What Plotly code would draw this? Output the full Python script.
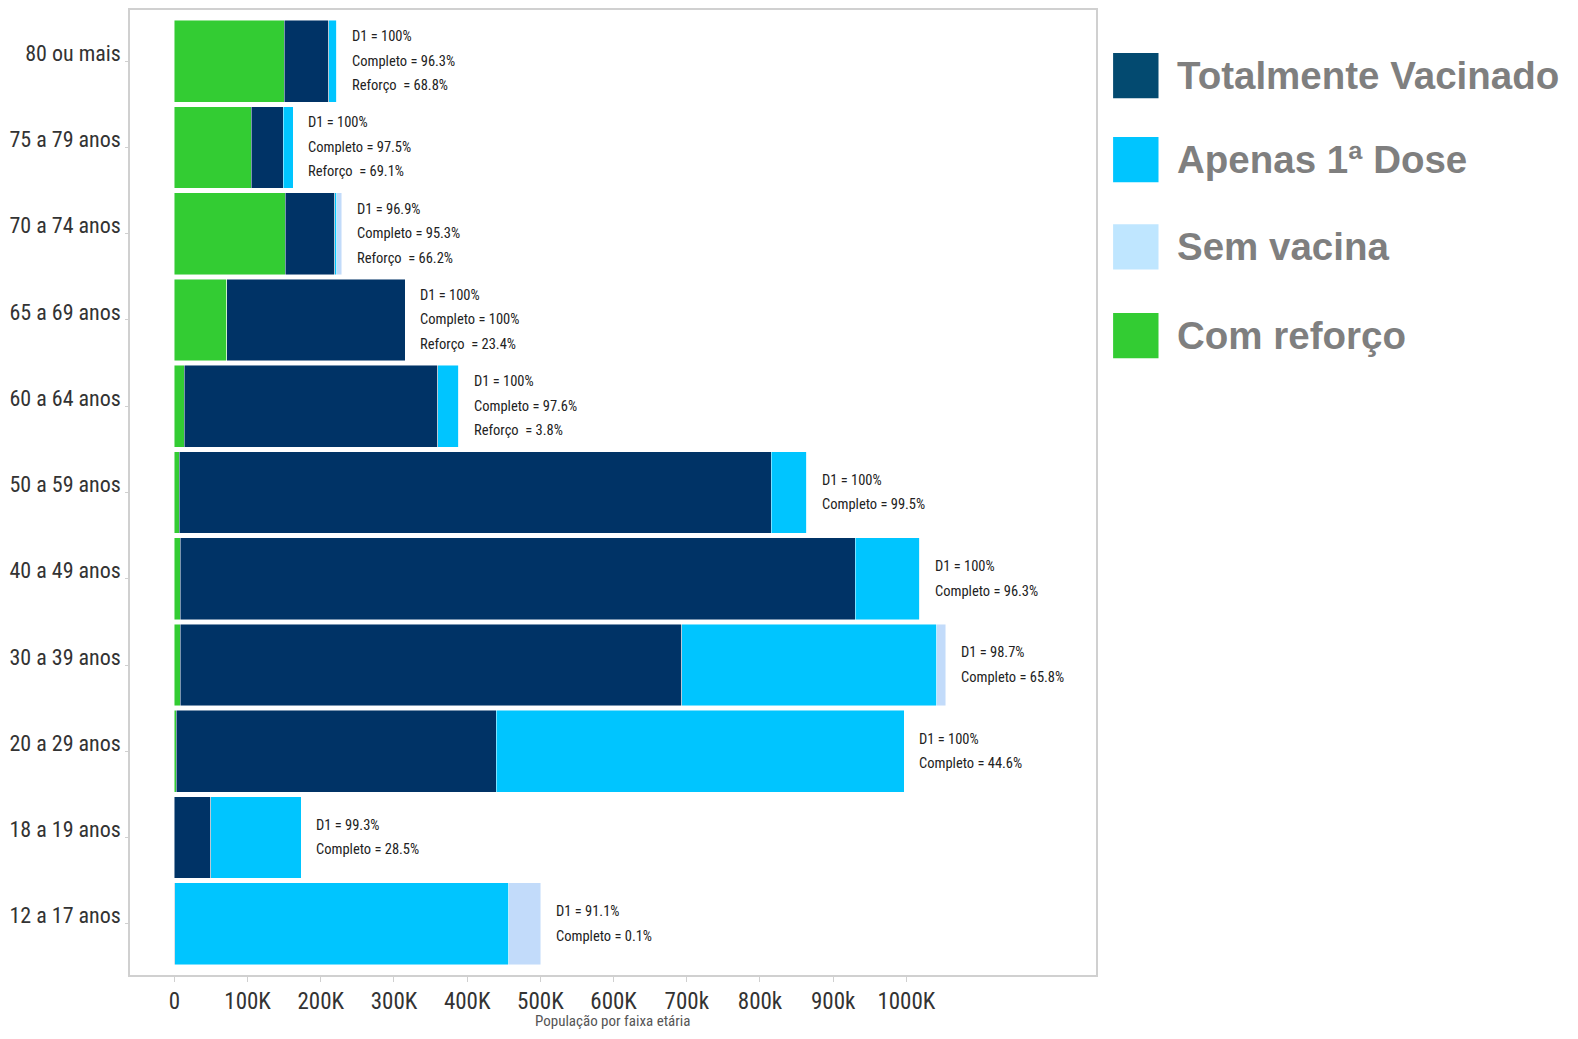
import plotly.graph_objects as go

categories = ["80 ou mais", "75 a 79 anos", "70 a 74 anos", "65 a 69 anos", "60 a 64 anos",
              "50 a 59 anos", "40 a 49 anos", "30 a 39 anos", "20 a 29 anos", "18 a 19 anos",
              "12 a 17 anos"]

# population (people)
reforco = [150000, 104700, 151500, 71600, 13800, 6900, 8300, 8300, 2800, 0, 0]
totalmente = [60600, 44000, 67500, 243800, 345700, 808500, 921500, 684600, 436600, 49600, 700]
apenas_d1 = [11000, 13800, 2800, 0, 28900, 48200, 88200, 348500, 557900, 124000, 456000]
sem_vacina = [0, 0, 6900, 0, 0, 0, 0, 12400, 0, 0, 44000]

labels = [
    ["D1 = 100%", "Completo = 96.3%", "Reforço  = 68.8%"],
    ["D1 = 100%", "Completo = 97.5%", "Reforço  = 69.1%"],
    ["D1 = 96.9%", "Completo = 95.3%", "Reforço  = 66.2%"],
    ["D1 = 100%", "Completo = 100%", "Reforço  = 23.4%"],
    ["D1 = 100%", "Completo = 97.6%", "Reforço  = 3.8%"],
    ["D1 = 100%", "Completo = 99.5%"],
    ["D1 = 100%", "Completo = 96.3%"],
    ["D1 = 98.7%", "Completo = 65.8%"],
    ["D1 = 100%", "Completo = 44.6%"],
    ["D1 = 99.3%", "Completo = 28.5%"],
    ["D1 = 91.1%", "Completo = 0.1%"],
]

tick_vals = [0, 100000, 200000, 300000, 400000, 500000, 600000, 700000, 800000, 900000, 1000000]
tick_text = ["0", "100K", "200K", "300K", "400K", "500K", "600K", "700k", "800k", "900k", "1000K"]

x_title = "População por faixa etária"
legend_names = ["Totalmente Vacinado", "Apenas 1ª Dose", "Sem vacina", "Com reforço"]
legend_colors = ["#034A70", "#00C5FF", "#BFE6FF", "#33CC33"]

NARROW = "Liberation Sans Narrow, Arial Narrow, Roboto Condensed, Liberation Sans, sans-serif"

fig = go.Figure()
series = [
    ("Com reforço", reforco, "#33CC33"),
    ("Totalmente Vacinado", totalmente, "#003366"),
    ("Apenas 1ª Dose", apenas_d1, "#00C5FF"),
    ("Sem vacina", sem_vacina, "#C2DBFA"),
]
for name, vals, col in series:
    fig.add_trace(go.Bar(
        y=categories, x=vals, name=name, orientation="h",
        marker=dict(color=col, line=dict(color="rgba(255,255,255,0.6)", width=0.8)),
        showlegend=False, hoverinfo="x+name",
    ))

# value annotations
for i, cat in enumerate(categories):
    total = reforco[i] + totalmente[i] + apenas_d1[i] + sem_vacina[i]
    lines = labels[i]
    n = len(lines)
    for j, txt in enumerate(lines):
        off = (j - (n - 1) / 2) * 24.5
        fig.add_annotation(x=total, y=cat, xref="x", yref="y", text=txt,
                           showarrow=False, xanchor="left", yanchor="middle",
                           xshift=13, yshift=-off,
                           font=dict(family=NARROW, size=14.5, color="#222222"))

# x axis title
fig.add_annotation(xref="paper", yref="paper", x=0.5, y=0, yshift=-46, text=x_title,
                   showarrow=False, xanchor="center", yanchor="middle",
                   font=dict(family=NARROW, size=15, color="#555555"))

# custom legend
leg_y = [0.932, 0.845, 0.7545, 0.6625]
for name, col, yy in zip(legend_names, legend_colors, leg_y):
    fig.add_shape(type="rect", xref="paper", yref="paper",
                  x0=1.0177, x1=1.0647, y0=yy - 0.0235, y1=yy + 0.0235,
                  fillcolor=col, line=dict(width=0))
    fig.add_annotation(xref="paper", yref="paper", x=1.082, y=yy, text="<b>%s</b>" % name,
                       showarrow=False, xanchor="left", yanchor="middle",
                       font=dict(family="Liberation Sans, Arial, sans-serif", size=38.5, color="#7F7F7F"))

# the page body adds an 8px margin; compensate so the plot lands where the reference has it
fig.update_layout(
    width=1562, height=1023,
    margin=dict(l=122, r=474, t=2, b=56, autoexpand=False),
    paper_bgcolor="white", plot_bgcolor="white",
    barmode="stack", bargap=0.05,
    showlegend=False,
    xaxis=dict(range=[-60600, 1259000], tickvals=tick_vals, ticktext=tick_text,
               tickfont=dict(family=NARROW, size=23, color="#333333"),
               showgrid=False, zeroline=False, automargin=False,
               showline=True, linecolor="#D0D0D0", linewidth=1.5, mirror=True,
               ticks="outside", ticklen=5, tickcolor="#D0D0D0"),
    yaxis=dict(range=[10.594, -0.594], showgrid=False, zeroline=False, automargin=False,
               showline=True, linecolor="#D0D0D0", linewidth=1.5, mirror=True,
               ticks="outside", ticklen=3, tickcolor="#D0D0D0", ticklabelshift=8,
               tickfont=dict(family=NARROW, size=22, color="#333333")),
)

fig.write_html("out.html", config={"displayModeBar": False})
